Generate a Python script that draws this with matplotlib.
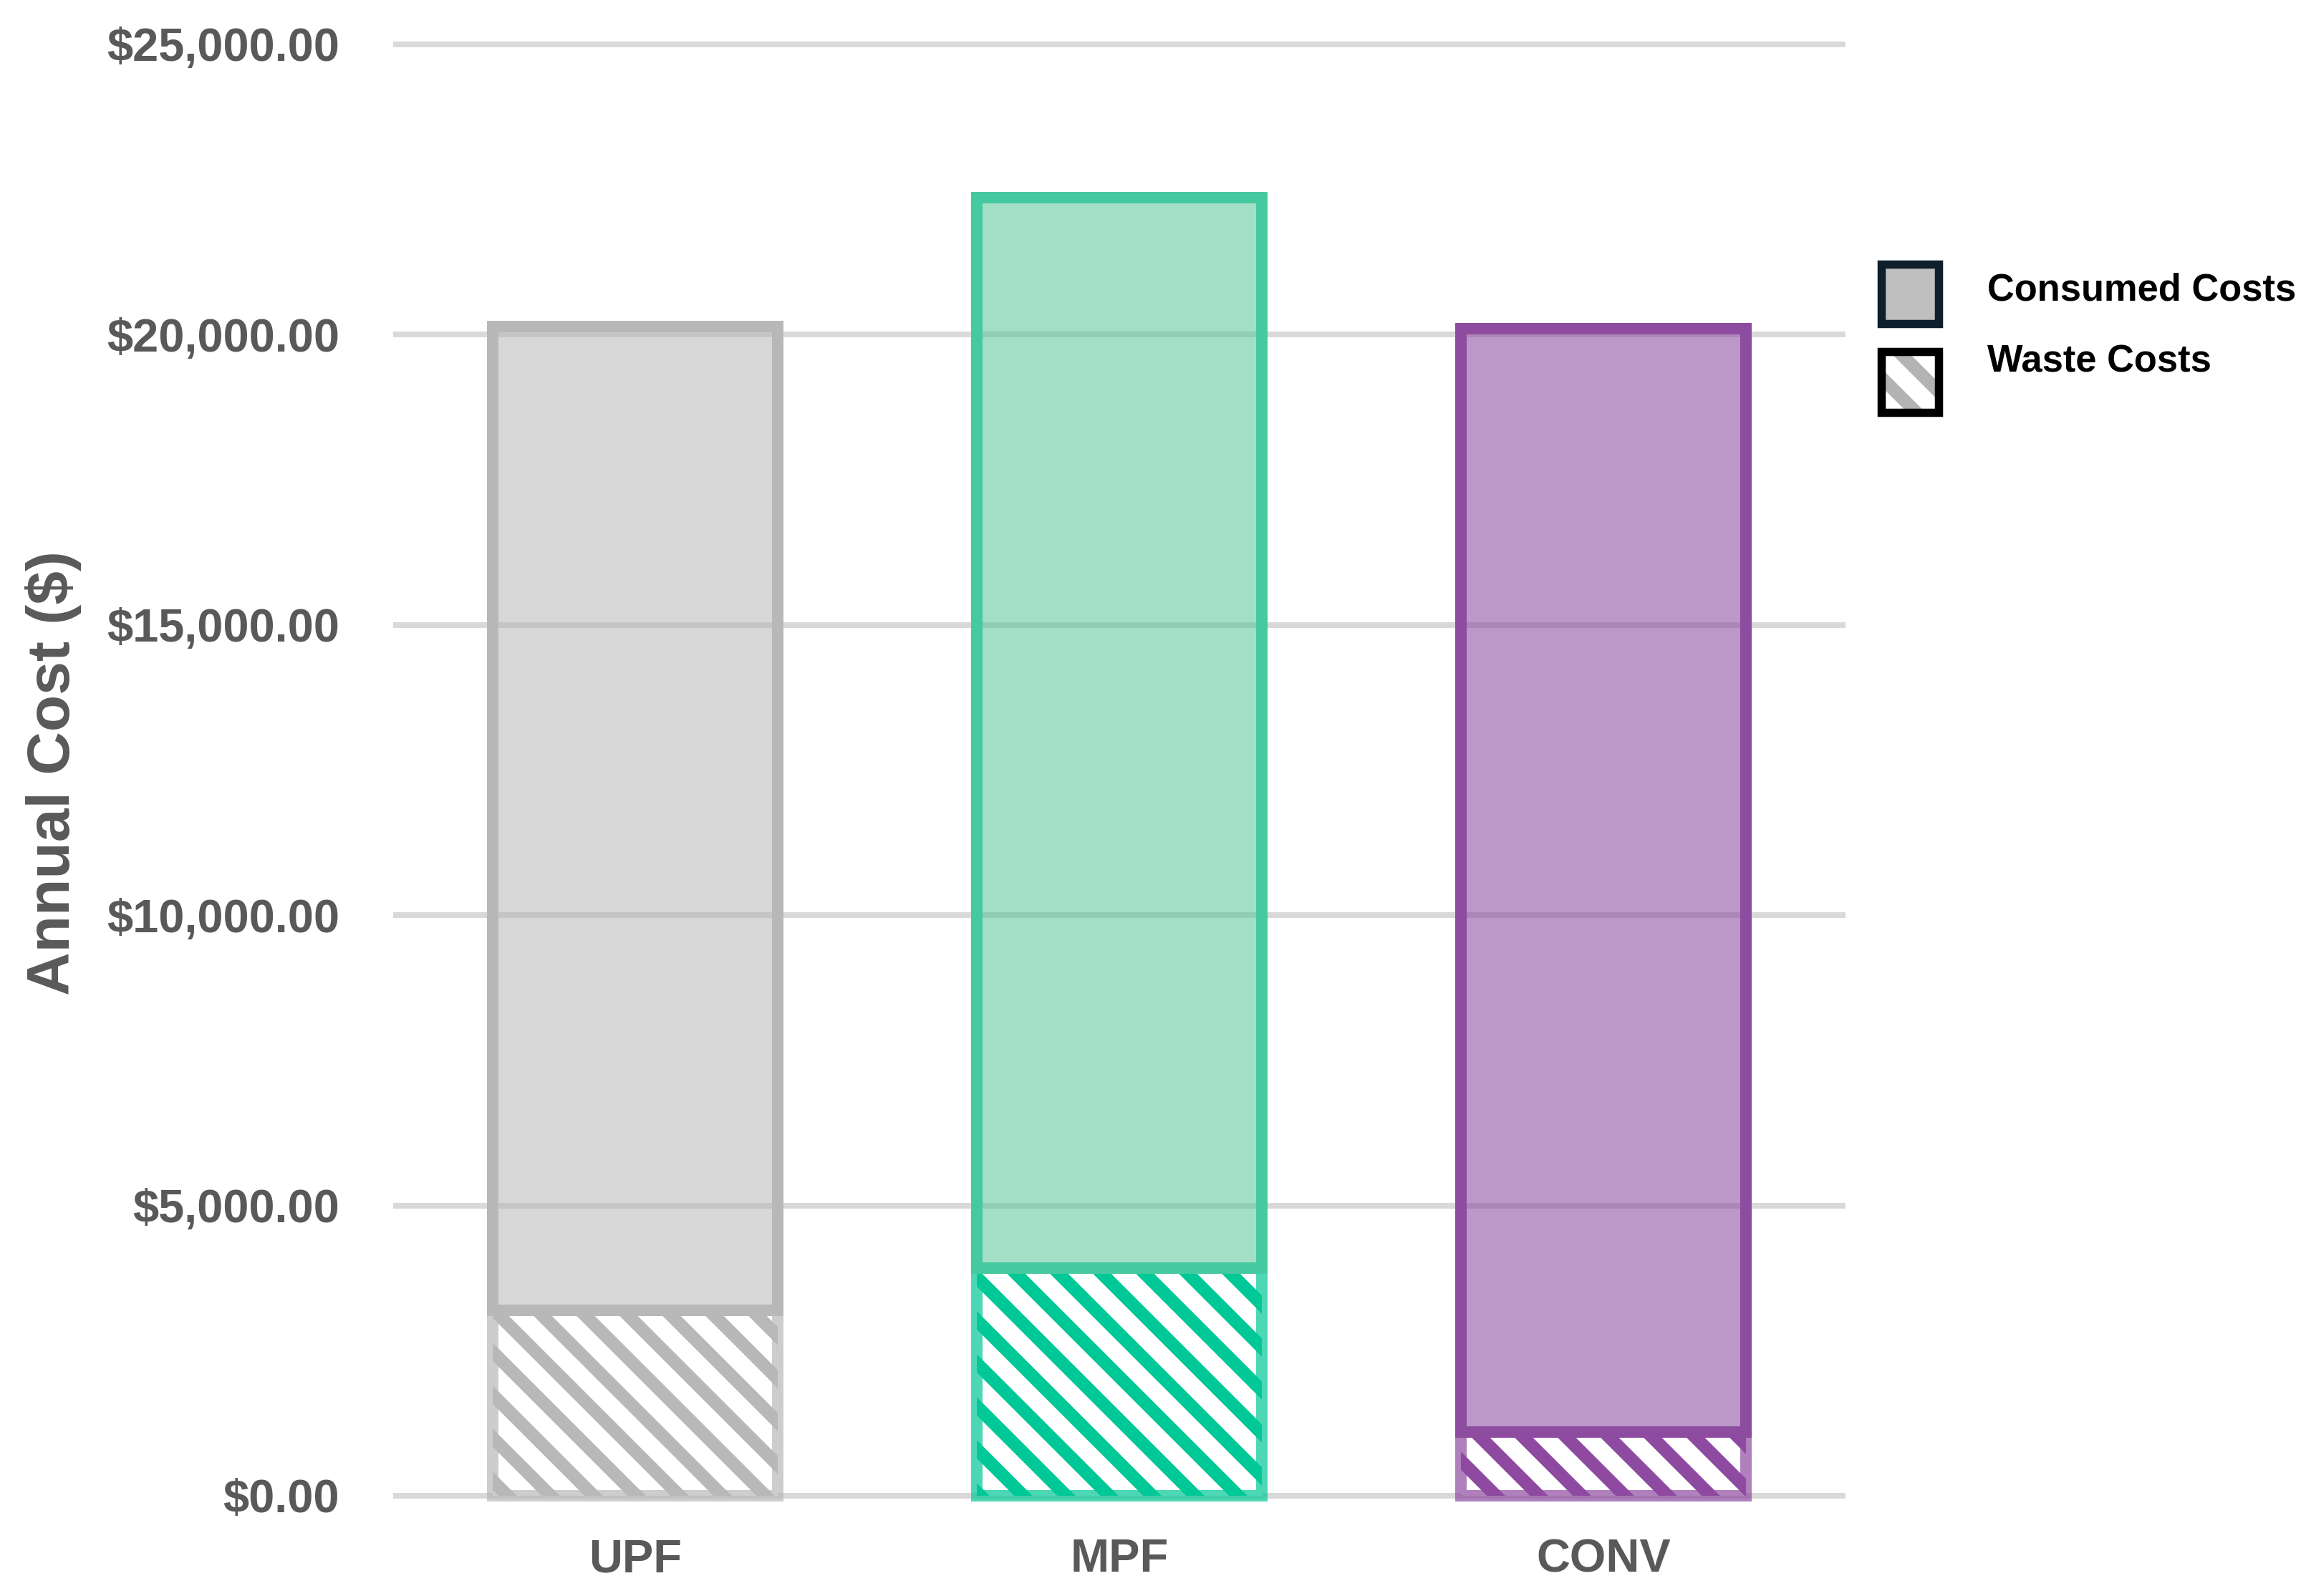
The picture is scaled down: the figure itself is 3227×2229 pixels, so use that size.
import matplotlib
matplotlib.use("Agg")
import matplotlib.pyplot as plt
from matplotlib.patches import Rectangle
from matplotlib.ticker import FuncFormatter

# values
categories = ["UPF", "MPF", "CONV"]
waste_costs = [3200, 3920, 1100]
consumed_costs = [16940, 18440, 19000]
y_ticks = [0, 5000, 10000, 15000, 20000, 25000]

edge_colors = ["#b8b8b8", "#45c9a0", "#8e4ca0"]
fill_colors = [(0.710, 0.710, 0.710, 0.53), (0.31, 0.765, 0.58, 0.53), (0.51, 0.24, 0.60, 0.53)]
hatch_colors = ["#b8b8b8", "#00c896", "#8e4aa0"]

dpi = 360
plt.rcParams["font.family"] = ["Liberation Sans", "DejaVu Sans"]
plt.rcParams["font.weight"] = "bold"
plt.rcParams["hatch.linewidth"] = 3.6

fig = plt.figure(figsize=(3227 / dpi, 2229 / dpi), dpi=dpi)
ax = fig.add_axes([0.1701, 0.0519, 0.6285, 0.9276])

x = list(range(len(categories)))
width = 0.59
lw = 3.2

# waste part: hatch, then a lighter outline
ax.bar(x, waste_costs, width, facecolor="white", edgecolor=hatch_colors,
       linewidth=0, hatch="\\\\", zorder=2)
ax.bar(x, waste_costs, width, fill=False,
       edgecolor=[matplotlib.colors.to_rgba(c, 0.7) for c in hatch_colors],
       linewidth=lw, zorder=3)
# consumed part on top
ax.bar(x, consumed_costs, width, bottom=waste_costs, facecolor=fill_colors,
       edgecolor=edge_colors, linewidth=lw, zorder=4)

ax.set_xlim(-0.5, 2.5)
ax.set_ylim(-300, 25200)
ax.set_yticks(y_ticks)
ax.yaxis.set_major_formatter(FuncFormatter(lambda v, p: f"${v:,.2f}"))
ax.set_xticks(x)
ax.set_xticklabels(categories)

ax.grid(axis="y", color="#d9d9d9", linewidth=1.6)
ax.set_axisbelow(True)
for s in ax.spines.values():
    s.set_visible(False)
ax.tick_params(axis="y", length=0, pad=15, labelsize=13, labelcolor="#595959")
ax.tick_params(axis="x", length=0, pad=7, labelsize=13, labelcolor="#595959")

ax.set_ylabel("Annual Cost ($)", fontsize=16.8, color="#595959", fontweight="bold")
ax.yaxis.set_label_coords(-0.2145, 0.5)

# legend drawn by hand to sit like the original
fig.patches.append(Rectangle((0.8141, 0.7972), 0.0248, 0.0372, transform=fig.transFigure,
                             facecolor="#c0bfc0", edgecolor="#0d1f2d", linewidth=2.3))
fig.patches.append(Rectangle((0.8141, 0.7416), 0.0248, 0.0381, transform=fig.transFigure,
                             facecolor="white", edgecolor="#b3b3b3", linewidth=0, hatch="\\\\"))
fig.patches.append(Rectangle((0.8141, 0.7416), 0.0248, 0.0381, transform=fig.transFigure,
                             fill=False, edgecolor="black", linewidth=2.3))
fig.text(0.8599, 0.8183, "Consumed Costs", fontsize=10.5, fontweight="bold", color="black", va="center")
fig.text(0.8599, 0.7734, "Waste Costs", fontsize=10.5, fontweight="bold", color="black", va="center")

fig.savefig("out.png", dpi=dpi, facecolor="white")
